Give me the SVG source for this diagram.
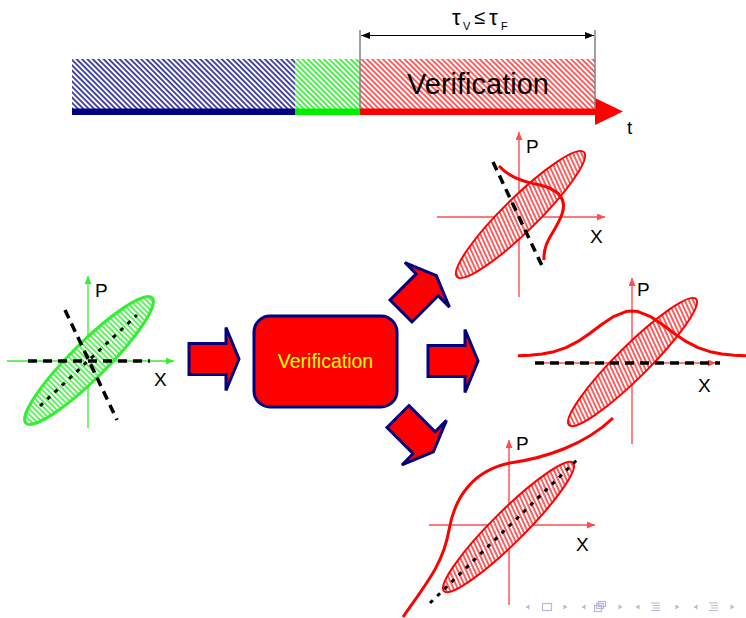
<svg xmlns="http://www.w3.org/2000/svg" width="746" height="618" viewBox="0 0 746 618">
<style>
.lbl{font-family:"Liberation Sans",Arial,sans-serif;fill:#000}
.dash{fill:none;stroke:#000;stroke-width:3.5;stroke-dasharray:9 6}
.dashs{fill:none;stroke:#000;stroke-width:3;stroke-dasharray:4 6}
.bigarrow{fill:#ff0000;stroke:#000080;stroke-width:3;stroke-linejoin:miter}
.gax{stroke:#33ee33;stroke-width:1.3;fill:none}
.rax{stroke:#ff4d4d;stroke-width:1.4;fill:none}
.curve{fill:none;stroke:#ff0000;stroke-width:3}
.nav{fill:#b8b8d8;stroke:none}
.navs{fill:none;stroke:#b8b8d8;stroke-width:1.2}
</style>
<defs>
<pattern id="hBlue" patternUnits="userSpaceOnUse" width="3.8" height="3.8" patternTransform="rotate(-45)"><rect width="3.8" height="3.8" fill="#fff"/><line x1="1" y1="0" x2="1" y2="3.8" stroke="#000080" stroke-width="1.4"/></pattern>
<pattern id="hGreen" patternUnits="userSpaceOnUse" width="3.8" height="3.8" patternTransform="rotate(-45)"><rect width="3.8" height="3.8" fill="#fff"/><line x1="1" y1="0" x2="1" y2="3.8" stroke="#00ee00" stroke-width="1.4"/></pattern>
<pattern id="hRed" patternUnits="userSpaceOnUse" width="3.8" height="3.8" patternTransform="rotate(-45)"><rect width="3.8" height="3.8" fill="#fff"/><line x1="1" y1="0" x2="1" y2="3.8" stroke="#ff2020" stroke-width="1.4"/></pattern>
<pattern id="eGreen" patternUnits="userSpaceOnUse" width="3.8" height="3.8"><rect width="3.8" height="3.8" fill="#fff"/><line x1="1" y1="0" x2="1" y2="3.8" stroke="#22ee22" stroke-width="1.4"/></pattern>
<pattern id="eRed" patternUnits="userSpaceOnUse" width="3.8" height="3.8" patternTransform="rotate(20)"><rect width="3.8" height="3.8" fill="#fff"/><line x1="1" y1="0" x2="1" y2="3.8" stroke="#ff2020" stroke-width="1.4"/></pattern>
<marker id="mG" markerUnits="userSpaceOnUse" markerWidth="9" markerHeight="7" refX="8" refY="3.5" orient="auto"><path d="M0,0 L8,3.5 L0,7 Z" fill="#33ee33"/></marker>
<marker id="mR" markerUnits="userSpaceOnUse" markerWidth="9" markerHeight="7" refX="8" refY="3.5" orient="auto"><path d="M0,0 L8,3.5 L0,7 Z" fill="#ff4d4d"/></marker>
<marker id="mK" markerUnits="userSpaceOnUse" markerWidth="10" markerHeight="8" refX="9" refY="4" orient="auto-start-reverse"><path d="M0,0.5 L9,4 L0,7.5 Z" fill="#000"/></marker>
<path id="arr" d="M0,-15.5 H37 V-31.5 L50,0 L37,31.5 V15.5 H0 Z"/>
</defs>

<g id="timeline">
<rect x="72" y="59" width="223" height="50" fill="url(#hBlue)"/>
<rect x="295" y="59" width="65" height="50" fill="url(#hGreen)"/>
<rect x="360" y="59" width="235" height="50" fill="url(#hRed)"/>
<rect x="72" y="108.5" width="223" height="6.5" fill="#000080"/>
<rect x="295" y="108.5" width="65" height="6.5" fill="#00ee00"/>
<rect x="360" y="108.5" width="236" height="6.5" fill="#ff0000"/>
<polygon points="595,98 623,111.5 595,125" fill="#ff0000"/>
<line x1="360" y1="30" x2="360" y2="109" stroke="#808080" stroke-width="1.5"/>
<line x1="595" y1="30" x2="595" y2="109" stroke="#808080" stroke-width="1.5"/>
<line x1="361" y1="35.5" x2="594" y2="35.5" stroke="#000" stroke-width="1.2" marker-start="url(#mK)" marker-end="url(#mK)"/>
<text class="lbl" x="452" y="25" font-size="22">τ</text>
<text class="lbl" x="463" y="30" font-size="11">V</text>
<text class="lbl" x="474" y="24" font-size="20">≤</text>
<text class="lbl" x="489" y="25" font-size="22">τ</text>
<text class="lbl" x="501" y="30" font-size="11">F</text>
<text class="lbl" x="478" y="94" font-size="29" text-anchor="middle">Verification</text>
<text class="lbl" x="627" y="134" font-size="19">t</text>
</g>

<g id="initial-phase-space">
<line class="gax" x1="7" y1="361" x2="174" y2="361" marker-end="url(#mG)"/>
<line class="gax" x1="88" y1="428" x2="88" y2="276" marker-end="url(#mG)"/>
<ellipse cx="89" cy="360.5" rx="89" ry="18" transform="rotate(-44.8 89 360.5)" fill="url(#eGreen)" stroke="#33ee33" stroke-width="3"/>
<line class="dash" x1="28" y1="361" x2="150" y2="361"/>
<line class="dash" x1="65" y1="310" x2="117" y2="420"/>
<line class="dashs" x1="40" y1="406" x2="137" y2="315"/>
<text class="lbl" x="95" y="297" font-size="19">P</text>
<text class="lbl" x="154" y="386" font-size="19">X</text>
</g>

<g id="verification-box">
<rect x="254" y="316" width="143" height="91" rx="16" fill="#ff0000" stroke="#000080" stroke-width="3"/>
<text x="325.5" y="368" font-size="19.5" text-anchor="middle" font-family="Liberation Sans, Arial, sans-serif" fill="#ffff00">Verification</text>
</g>

<g id="connectors">
<use href="#arr" class="bigarrow" transform="translate(189,359)"/>
<use href="#arr" class="bigarrow" transform="translate(428,361)"/>
<use href="#arr" class="bigarrow" transform="translate(401,311) rotate(-45)"/>
<use href="#arr" class="bigarrow" transform="translate(398,416.5) rotate(45)"/>
</g>

<g id="outcome-top">
<line class="rax" x1="437" y1="217" x2="605" y2="217" marker-end="url(#mR)"/>
<line class="rax" x1="519" y1="297" x2="519" y2="132" marker-end="url(#mR)"/>
<ellipse cx="520.5" cy="214.5" rx="89" ry="17" transform="rotate(-44.5 520.5 214.5)" fill="url(#eRed)" stroke="#ff0000" stroke-width="2"/>
<line class="dash" x1="493" y1="162" x2="544" y2="270"/>
<path class="curve" d="M499,166 C510,178 525,182 540,185 C560,190 567,200 562,214 C556,232 543,240 544,260"/>
<text class="lbl" x="526" y="153" font-size="19">P</text>
<text class="lbl" x="590" y="243" font-size="19">X</text>
</g>

<g id="outcome-middle">
<line class="rax" x1="535" y1="363" x2="716" y2="363" marker-end="url(#mR)"/>
<line class="rax" x1="632" y1="444" x2="632" y2="278" marker-end="url(#mR)"/>
<ellipse cx="632.5" cy="362" rx="89.5" ry="16" transform="rotate(-44.8 632.5 362)" fill="url(#eRed)" stroke="#ff0000" stroke-width="2"/>
<line class="dash" x1="535" y1="363" x2="720" y2="363"/>
<polyline class="curve" points="518,355.7 530,355.2 542,354 554,351.7 566,347.6 578,341.4 590,333.2 602,324.2 614,316.3 626,311.6 632,311 638,311.6 650,316.3 662,324.2 674,333.2 686,341.4 698,347.6 710,351.7 722,354 734,355.2 746,355.7" stroke-linejoin="round"/>
<text class="lbl" x="637" y="296" font-size="19">P</text>
<text class="lbl" x="698" y="392" font-size="19">X</text>
</g>

<g id="outcome-bottom">
<line class="rax" x1="429" y1="525" x2="595" y2="525" marker-end="url(#mR)"/>
<line class="rax" x1="509" y1="605" x2="509" y2="440" marker-end="url(#mR)"/>
<ellipse cx="508.5" cy="527" rx="91" ry="16" transform="rotate(-44.8 508.5 527)" fill="url(#eRed)" stroke="#ff0000" stroke-width="2"/>
<line class="dashs" x1="430" y1="603" x2="580" y2="457"/>
<path class="curve" d="M403,617 C425,585 443,565 449,530 C455,495 475,470 510,463 C545,458 585,445 613,418"/>
<text class="lbl" x="516" y="450" font-size="19">P</text>
<text class="lbl" x="576" y="551" font-size="19">X</text>
</g>

<g id="navigation">
<polygon class="nav" points="525.5,607 529.5,604.5 529.5,609.5"/>
<rect class="navs" x="542.5" y="603.5" width="9" height="7"/>
<polygon class="nav" points="563.5,604.5 567.5,607 563.5,609.5"/>
<polygon class="nav" points="581.5,607 585.5,604.5 585.5,609.5"/>
<rect class="navs" x="598.5" y="601.5" width="7" height="5"/>
<rect class="navs" x="596.5" y="603.5" width="7" height="5"/>
<rect class="navs" x="594.5" y="605.5" width="7" height="6" fill="#fff"/>
<polygon class="nav" points="618.5,604.5 622.5,607 618.5,609.5"/>
<polygon class="nav" points="635.5,607 639.5,604.5 639.5,609.5"/>
<path class="navs" d="M651,603 H660 M653,605.5 H660 M653,608 H660 M651,610.5 H660"/>
<polygon class="nav" points="675.5,604.5 679.5,607 675.5,609.5"/>
<polygon class="nav" points="693.5,607 697.5,604.5 697.5,609.5"/>
<path class="navs" d="M709,603 H718 M711,605.5 H718 M711,608 H718 M709,610.5 H718"/>
<polygon class="nav" points="730.5,604.5 734.5,607 730.5,609.5"/>
</g>
</svg>
